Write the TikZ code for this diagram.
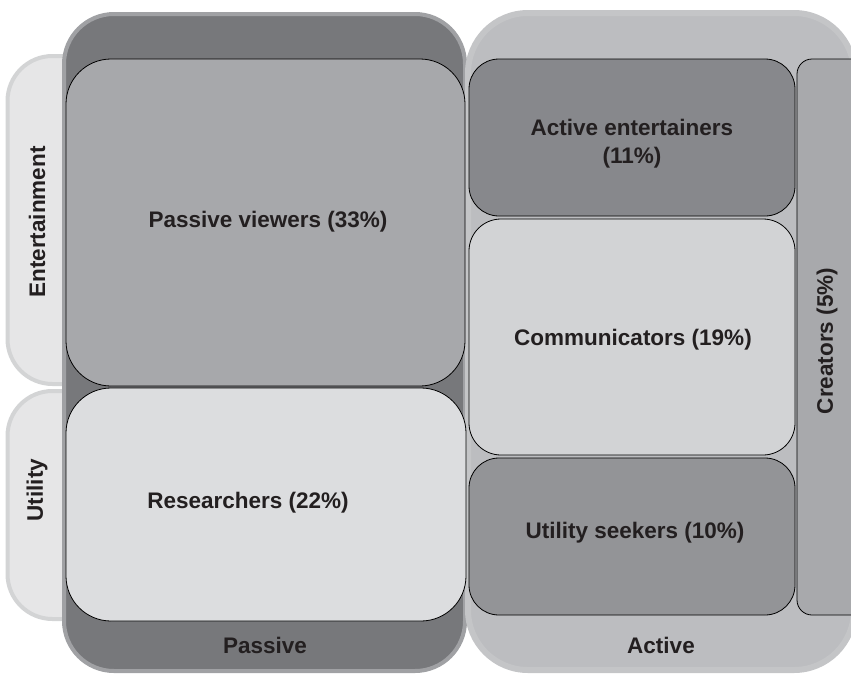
\documentclass[tikz,border=0pt]{standalone}
\usepackage{fontspec}
\setmainfont{Liberation Sans}
\usetikzlibrary{shapes}
\definecolor{ink}{HTML}{231F20}
\definecolor{rowfill}{HTML}{E6E6E7}
\definecolor{rowline}{HTML}{D3D4D5}
\definecolor{passfill}{HTML}{77787B}
\definecolor{passline}{HTML}{A0A1A4}
\definecolor{actfill}{HTML}{BCBDC0}
\definecolor{actline}{HTML}{C4C5C7}
\definecolor{pvfill}{HTML}{A7A8AB}
\definecolor{resfill}{HTML}{DCDDDF}
\definecolor{aefill}{HTML}{87888C}
\definecolor{comfill}{HTML}{D2D3D5}
\definecolor{usfill}{HTML}{939497}
\definecolor{crefill}{HTML}{A8A9AC}
\tikzstyle{band}=[rectangle,rounded corners=50pt,line width=4pt,inner sep=0pt]
\tikzstyle{segment}=[rectangle,draw=black,line width=0.8pt,inner sep=0pt]
\tikzstyle{label}=[text=ink,align=center,font=\bfseries\fontsize{22.5}{28}\selectfont]

\begin{document}
\begin{tikzpicture}[x=1pt,y=-1pt]

    \useasboundingbox (0,0) rectangle (851,675);

    % rows: entertainment / utility
    \foreach \x/\y/\w/\h/\name in {238/220/461/328/ent, 238/505/461/228/util}
        \node[band, rounded corners=45pt, draw=rowline, fill=rowfill, minimum width=\w pt, minimum height=\h pt] (\name) at (\x, \y) {};

    % columns: passive / active
    \node[band, draw=passline, fill=passfill, minimum width=401pt, minimum height=657pt] (passive) at (264.5, 342.5) {};
    \node[band, rounded corners=60pt, line width=6pt, draw=actline, fill=actfill, minimum width=386pt, minimum height=657pt] (active) at (661, 341.5) {};

    % segments
    \foreach \x/\y/\w/\h/\r/\col/\name in {265.5/222.5/399/327/45/pvfill/pv, 266/504.5/400/233/45/resfill/res,
        632/137.5/326/157/30/aefill/ae, 632/337/326/236/32/comfill/com, 632/536.5/326/157/30/usfill/us,
        834/337/74/556/15/crefill/cre}
        \node[segment, rounded corners=\r pt, fill=\col, minimum width=\w pt, minimum height=\h pt] (\name) at (\x, \y) {};

    % texts
    \foreach \x/\y/\txt/\name in {268/222/{Passive viewers (33\%)}/pvtext, 248/503/{Researchers (22\%)}/restext,
        632/144/{Active entertainers\\(11\%)}/aetext, 633/340/{Communicators (19\%)}/comtext,
        635/533/{Utility seekers (10\%)}/ustext, 265/645/{Passive}/passtext, 661/645/{Active}/acttext}
        \node[label] (\name) at (\x, \y) {\txt};

    \foreach \x/\y/\txt/\name in {37/222/{Entertainment}/enttext, 37/490/{Utility}/utiltext, 827/341/{Creators (5\%)}/cretext}
        \node[label, rotate=90] (\name) at (\x, \y) {\txt};

\end{tikzpicture}
\end{document}
